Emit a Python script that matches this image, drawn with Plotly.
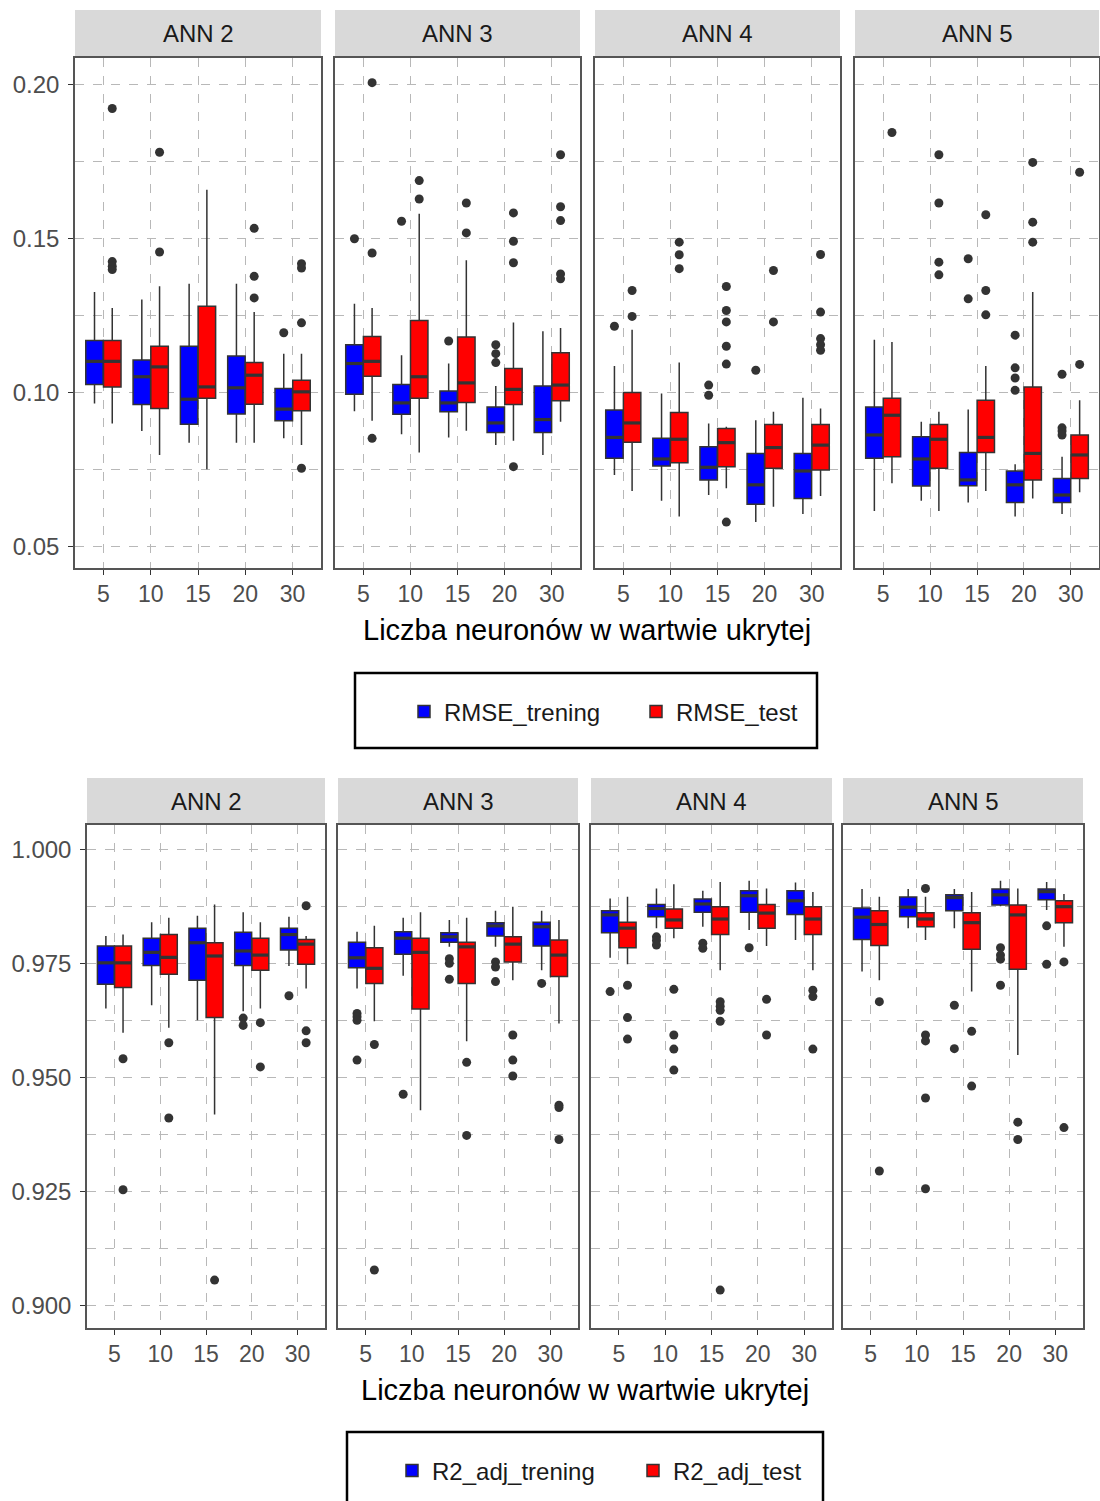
import plotly.graph_objects as go

W, H = 1100, 1501

neurons = ["5", "10", "15", "20", "30"]
panels = ["ANN 2", "ANN 3", "ANN 4", "ANN 5"]
x_title = "Liczba neuronów w wartwie ukrytej"

# each entry per neuron count: [lower whisker, q1, median, q3, upper whisker]
RMSE_trening = {
    "ANN 2": [[0.0963, 0.1025, 0.110, 0.1168, 0.1325], [0.0874, 0.096, 0.105, 0.1104, 0.1301],
              [0.0836, 0.0896, 0.0977, 0.1149, 0.1352], [0.0836, 0.0929, 0.1014, 0.1117, 0.1352],
              [0.085, 0.0907, 0.0945, 0.1012, 0.1125]],
    "ANN 3": [[0.0938, 0.0993, 0.1093, 0.1154, 0.1287], [0.0863, 0.0928, 0.0965, 0.1025, 0.112],
              [0.0853, 0.0936, 0.0965, 0.1004, 0.1093], [0.0828, 0.0869, 0.090, 0.0952, 0.102],
              [0.0796, 0.0869, 0.0911, 0.102, 0.1198]],
    "ANN 4": [[0.0731, 0.0785, 0.0853, 0.0942, 0.1085], [0.0647, 0.076, 0.0783, 0.085, 0.0996],
              [0.0666, 0.0715, 0.0756, 0.0823, 0.0898], [0.0578, 0.0636, 0.0699, 0.0801, 0.0909],
              [0.0604, 0.0655, 0.0744, 0.0801, 0.0982]],
    "ANN 5": [[0.0614, 0.0785, 0.0861, 0.0952, 0.117], [0.0647, 0.0695, 0.0783, 0.0855, 0.0904],
              [0.0642, 0.0696, 0.0715, 0.0804, 0.0944], [0.0596, 0.0642, 0.0699, 0.0744, 0.0766],
              [0.0604, 0.0642, 0.0666, 0.072, 0.079]],
}
RMSE_trening_out = {
    "ANN 2": [[], [], [], [], [0.1193]],
    "ANN 3": [[0.1498], [0.1555], [0.1166], [0.1154, 0.1125, 0.1096], []],
    "ANN 4": [[0.1214], [], [0.1023, 0.099], [0.1071], []],
    "ANN 5": [[], [], [0.1433, 0.1303], [0.1185, 0.1079, 0.1046, 0.1006], [0.1058, 0.0884, 0.0874, 0.0861]],
}
RMSE_test = {
    "ANN 2": [[0.0898, 0.1017, 0.110, 0.1168, 0.1273], [0.0796, 0.0947, 0.1082, 0.1149, 0.1344],
              [0.075, 0.098, 0.1017, 0.1279, 0.1657], [0.0836, 0.0961, 0.1055, 0.1096, 0.126],
              [0.0828, 0.094, 0.1001, 0.1039, 0.1125]],
    "ANN 3": [[0.0907, 0.1052, 0.110, 0.1181, 0.1273], [0.0804, 0.098, 0.105, 0.1233, 0.1579],
              [0.0875, 0.0966, 0.103, 0.1179, 0.1428], [0.0842, 0.096, 0.1009, 0.1077, 0.1226],
              [0.0904, 0.0972, 0.1023, 0.1128, 0.1208]],
    "ANN 4": [[0.0679, 0.0837, 0.090, 0.0999, 0.1203], [0.0596, 0.0771, 0.0847, 0.0934, 0.1096],
              [0.0688, 0.0758, 0.0836, 0.0882, 0.0888], [0.0628, 0.0753, 0.082, 0.0895, 0.0936],
              [0.0663, 0.0747, 0.0828, 0.0895, 0.0947]],
    "ANN 5": [[0.0704, 0.079, 0.0925, 0.098, 0.1163], [0.0614, 0.0753, 0.0847, 0.0895, 0.0936],
              [0.0679, 0.0804, 0.0853, 0.0974, 0.1085], [0.0655, 0.0715, 0.0801, 0.1017, 0.1325],
              [0.0675, 0.072, 0.0796, 0.0861, 0.0974]],
}
RMSE_test_out = {
    "ANN 2": [[0.1921, 0.1424, 0.1409, 0.1398], [0.1779, 0.1455], [], [0.1532, 0.1376, 0.1306],
              [0.1225, 0.1417, 0.1403, 0.0753]],
    "ANN 3": [[0.2005, 0.1452, 0.085], [0.1687, 0.1627], [0.1614, 0.1517], [0.1582, 0.149, 0.142, 0.0758],
              [0.1771, 0.1602, 0.1557, 0.1384, 0.1368]],
    "ANN 4": [[0.133, 0.1246], [0.1487, 0.1446, 0.1401], [0.1343, 0.1265, 0.1228, 0.1149, 0.1091, 0.0578],
              [0.1395, 0.1228], [0.1447, 0.126, 0.1174, 0.1154, 0.1136]],
    "ANN 5": [[0.1843], [0.1771, 0.1614, 0.1422, 0.1381], [0.1576, 0.133, 0.1251], [0.1746, 0.1552, 0.1487],
              [0.1714, 0.109]],
}
R2_adj_trening = {
    "ANN 2": [[0.9651, 0.9704, 0.9751, 0.9788, 0.981], [0.9658, 0.9745, 0.9774, 0.9805, 0.984],
              [0.9625, 0.9713, 0.9795, 0.9827, 0.9854], [0.9645, 0.9745, 0.9777, 0.9818, 0.9862],
              [0.9744, 0.9779, 0.9813, 0.9827, 0.9852]],
    "ANN 3": [[0.9695, 0.974, 0.9762, 0.9796, 0.9819], [0.9723, 0.977, 0.9805, 0.9819, 0.985],
              [0.9786, 0.9796, 0.9808, 0.9817, 0.9845], [0.9786, 0.981, 0.9832, 0.9839, 0.9865],
              [0.9735, 0.9788, 0.983, 0.984, 0.9865]],
    "ANN 4": [[0.9762, 0.9817, 0.9856, 0.9865, 0.9892], [0.9827, 0.9852, 0.987, 0.9879, 0.9914],
              [0.983, 0.9862, 0.988, 0.9891, 0.9909], [0.9823, 0.9862, 0.9898, 0.9909, 0.9931],
              [0.9801, 0.9857, 0.9887, 0.9909, 0.9927]],
    "ANN 5": [[0.9732, 0.9802, 0.9851, 0.9871, 0.9913], [0.9827, 0.9852, 0.9873, 0.9895, 0.9913],
              [0.9827, 0.9865, 0.9894, 0.990, 0.9913], [0.9875, 0.9878, 0.990, 0.9913, 0.9931],
              [0.9867, 0.9889, 0.9907, 0.9913, 0.9928]],
}
R2_adj_trening_out = {
    "ANN 2": [[], [], [], [0.9630, 0.9614], [0.9679]],
    "ANN 3": [[0.964, 0.9633, 0.9625, 0.9538], [0.9463], [0.976, 0.975, 0.9715], [0.9753, 0.9742, 0.971], [0.9706]],
    "ANN 4": [[0.9688], [0.9808, 0.980, 0.979], [0.9794, 0.9783], [0.9784], []],
    "ANN 5": [[], [], [0.9658, 0.9563], [0.9784, 0.9768, 0.9759, 0.9702], [0.9832, 0.9748]],
}
R2_adj_test = {
    "ANN 2": [[0.9598, 0.9697, 0.9751, 0.9788, 0.9813], [0.9609, 0.9726, 0.9763, 0.9813, 0.985],
              [0.9419, 0.9631, 0.9766, 0.9795, 0.9879], [0.9651, 0.9735, 0.9768, 0.9805, 0.984],
              [0.9695, 0.9748, 0.9792, 0.9802, 0.981]],
    "ANN 3": [[0.9623, 0.9706, 0.9739, 0.9784, 0.9832], [0.9428, 0.965, 0.9774, 0.9805, 0.9862],
              [0.9579, 0.9706, 0.9786, 0.9796, 0.985], [0.9713, 0.9753, 0.9792, 0.9808, 0.9874],
              [0.9618, 0.9721, 0.9768, 0.9801, 0.9845]],
    "ANN 4": [[0.9748, 0.9784, 0.9827, 0.984, 0.9896], [0.9805, 0.9827, 0.9845, 0.9869, 0.9923],
              [0.9735, 0.9813, 0.9847, 0.9874, 0.9928], [0.9788, 0.9827, 0.986, 0.9879, 0.9914],
              [0.9735, 0.9813, 0.9847, 0.9874, 0.9906]],
    "ANN 5": [[0.9713, 0.9789, 0.9835, 0.9865, 0.9896], [0.9801, 0.983, 0.9847, 0.9861, 0.9896],
              [0.9688, 0.9781, 0.9839, 0.9861, 0.9906], [0.9549, 0.9737, 0.9856, 0.9878, 0.9914],
              [0.9786, 0.9839, 0.9874, 0.9887, 0.9902]],
}
R2_adj_test_out = {
    "ANN 2": [[0.9541, 0.9254], [0.9576, 0.9411], [0.9056], [0.962, 0.9523], [0.9876, 0.9602, 0.9576]],
    "ANN 3": [[0.9572, 0.9078], [], [0.9533, 0.9373], [0.9593, 0.9538, 0.9503], [0.9439, 0.9434, 0.9364]],
    "ANN 4": [[0.9702, 0.9631, 0.9584], [0.9693, 0.9593, 0.9562, 0.9516],
              [0.9666, 0.9656, 0.9647, 0.9623, 0.9034], [0.9671, 0.9593], [0.9691, 0.9677, 0.9562]],
    "ANN 5": [[0.9666, 0.9295], [0.9914, 0.9593, 0.958, 0.9455, 0.9256], [0.9601, 0.9481], [0.9402, 0.9364],
              [0.9753, 0.939]],
}

# ---------------- layout geometry (pixels) ----------------
FONT = "Liberation Sans, Arial, sans-serif"
BLUE, RED = "#0000ff", "#ff0000"
EDGE = "#333333"
GRID = "#b8b8b8"
BOXW = 0.37

rows = [
    dict(xpix=[(75, 321), (335, 580), (595, 840), (855, 1099)], ypix=(58, 568), strip=(10, 58),
         series=[("RMSE_trening", RMSE_trening, RMSE_trening_out, BLUE),
                 ("RMSE_test", RMSE_test, RMSE_test_out, RED)],
         yrange=[0.0429, 0.2085], dtick=0.05, fmt=".2f", title_y=630,
         legend="legend", leg_box=(355, 673, 817, 748), leg_x=404, leg_y=712, entry=187),
    dict(xpix=[(87, 325), (338, 578), (591, 832), (843, 1083)], ypix=(825, 1328), strip=(778, 825),
         series=[("R2_adj_trening", R2_adj_trening, R2_adj_trening_out, BLUE),
                 ("R2_adj_test", R2_adj_test, R2_adj_test_out, RED)],
         yrange=[0.8951, 1.0053], dtick=0.025, fmt=".3f", title_y=1390,
         legend="legend2", leg_box=(347, 1432, 823, 1505), leg_x=392, leg_y=1471, entry=196),
]

def px(x):
    return x / W

def py(y):
    return 1 - y / H

fig = go.Figure()
shapes, annotations = [], []
layout = {}
offsets = [-0.1875, 0.1875]
pos = list(range(1, len(neurons) + 1))

ax = 0
for r, row in enumerate(rows):
    for p, panel in enumerate(panels):
        ax += 1
        xa = "x" if ax == 1 else f"x{ax}"
        ya = "y" if ax == 1 else f"y{ax}"
        x0, x1 = row["xpix"][p]
        y0, y1 = row["ypix"]
        layout["xaxis" if ax == 1 else f"xaxis{ax}"] = dict(
            domain=[px(x0), px(x1)], anchor=ya, range=[0.4, 5.6],
            tickmode="array", tickvals=pos, ticktext=neurons,
            ticks="outside", ticklen=5, tickwidth=1.2, tickcolor=EDGE,
            tickfont=dict(family=FONT, size=23, color="#4d4d4d"),
            showgrid=True, gridcolor=GRID, griddash="dash", gridwidth=1,
            showline=True, mirror=True, linecolor="#555555", linewidth=1.5,
            zeroline=False, fixedrange=True)
        layout["yaxis" if ax == 1 else f"yaxis{ax}"] = dict(
            domain=[py(y1), py(y0)], anchor=xa, range=row["yrange"],
            tick0=0, dtick=row["dtick"], tickformat=row["fmt"],
            ticks="outside" if p == 0 else "", ticklen=5, tickwidth=1.2, tickcolor=EDGE,
            showticklabels=(p == 0), ticklabelstandoff=4,
            tickfont=dict(family=FONT, size=24, color="#4d4d4d"),
            showgrid=True, gridcolor=GRID, griddash="dash", gridwidth=1,
            minor=dict(dtick=row["dtick"] / 2, tick0=0, showgrid=True, gridcolor=GRID,
                       griddash="dash", gridwidth=1, ticks=""),
            showline=True, mirror=True, linecolor="#555555", linewidth=1.5,
            zeroline=False, fixedrange=True)
        # strip
        s0, s1 = row["strip"]
        shapes.append(dict(type="rect", xref="paper", yref="paper", x0=px(x0), x1=px(x1),
                           y0=py(s1), y1=py(s0), fillcolor="#d9d9d9", line=dict(width=0),
                           layer="below"))
        annotations.append(dict(text=panel, xref="paper", yref="paper", x=px((x0 + x1) / 2),
                                y=py((s0 + s1) / 2), showarrow=False, xanchor="center",
                                yanchor="middle", font=dict(family=FONT, size=24, color="#1a1a1a")))
        for k, (name, stats, outs, color) in enumerate(row["series"]):
            d = stats[panel]
            xs = [i + offsets[k] for i in pos]
            fig.add_trace(go.Box(
                x=xs, lowerfence=[v[0] for v in d], q1=[v[1] for v in d], median=[v[2] for v in d],
                q3=[v[3] for v in d], upperfence=[v[4] for v in d],
                width=BOXW, whiskerwidth=0, boxpoints=False, fillcolor=color,
                line=dict(color=EDGE, width=1.5), name=name, legendgroup=name,
                showlegend=(p == 0), legend=row["legend"], xaxis=xa, yaxis=ya,
                hoverinfo="skip"))
            # thicker median bar (ggplot style)
            mx, my = [], []
            for c, v in zip(xs, d):
                mx += [c - BOXW / 2, c + BOXW / 2, None]
                my += [v[2], v[2], None]
            fig.add_trace(go.Scatter(
                x=mx, y=my, mode="lines", line=dict(color=EDGE, width=3.2),
                showlegend=False, xaxis=xa, yaxis=ya, hoverinfo="skip"))
            ox, oy = [], []
            for i, vals in zip(pos, outs[panel]):
                for v in vals:
                    ox.append(i + offsets[k])
                    oy.append(v)
            fig.add_trace(go.Scatter(
                x=ox, y=oy, mode="markers", marker=dict(size=9, color=EDGE),
                showlegend=False, xaxis=xa, yaxis=ya, hoverinfo="skip"))
    # x title
    annotations.append(dict(text=x_title, xref="paper", yref="paper",
                            x=px((row["xpix"][0][0] + row["xpix"][3][1]) / 2), y=py(row["title_y"]),
                            showarrow=False, xanchor="center", yanchor="middle",
                            font=dict(family=FONT, size=29, color="#000000")))
    # legend box
    lx0, ly0, lx1, ly1 = row["leg_box"]
    shapes.append(dict(type="rect", xref="paper", yref="paper", x0=px(lx0), x1=px(lx1),
                       y0=py(ly1), y1=py(ly0), line=dict(color="#000000", width=2.5),
                       fillcolor="rgba(0,0,0,0)"))
    layout[row["legend"]] = dict(
        x=px(row["leg_x"]), y=py(row["leg_y"]), xanchor="left", yanchor="middle",
        orientation="h", font=dict(family=FONT, size=24, color="#1a1a1a"),
        entrywidth=row["entry"], entrywidthmode="pixels",
        bgcolor="rgba(0,0,0,0)", borderwidth=0, itemclick=False, itemdoubleclick=False)

fig.update_layout(
    width=W, height=H, margin=dict(l=0, r=0, t=0, b=0),
    paper_bgcolor="white", plot_bgcolor="white", boxmode="overlay",
    shapes=shapes, annotations=annotations, font=dict(family=FONT), **layout)

fig.write_html("out.html", config={"displayModeBar": False},
               post_script="document.body.style.margin='0px';")
